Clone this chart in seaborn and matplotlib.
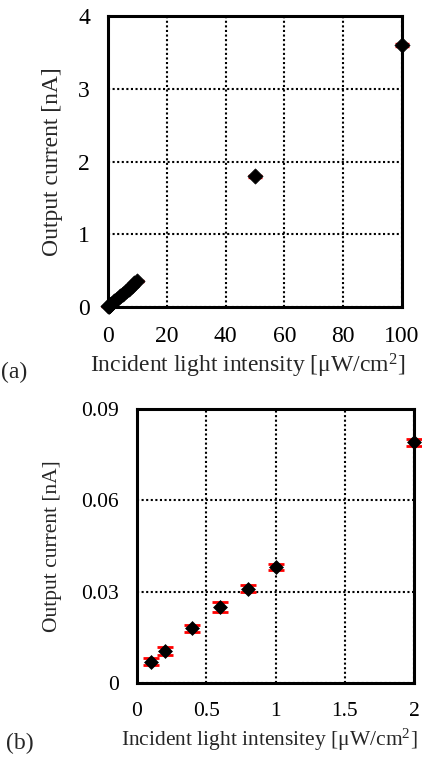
import matplotlib
matplotlib.use("Agg")
import matplotlib.pyplot as plt
import seaborn as sns
import pandas as pd

# Panel (a) data
a_x = [0.1, 0.2, 0.4, 0.6, 0.8, 1, 2, 3, 4, 5, 6, 7, 8, 9, 10, 50, 100]
a_y = [0.007, 0.0105, 0.018, 0.025, 0.031, 0.038, 0.079, 0.11, 0.145, 0.18,
       0.215, 0.25, 0.29, 0.325, 0.36, 1.8, 3.6]
a_err = [0.0012, 0.0013, 0.0012, 0.0016, 0.0012, 0.001, 0.0012, 0.003, 0.004, 0.005,
         0.006, 0.007, 0.008, 0.009, 0.01, 0.02, 0.03]

# Panel (b) data
b_x = [0.1, 0.2, 0.4, 0.6, 0.8, 1.0, 2.0]
b_y = [0.007, 0.0105, 0.018, 0.025, 0.031, 0.038, 0.079]
b_err = [0.0012, 0.0013, 0.0012, 0.0016, 0.0012, 0.001, 0.0012]

a_xticks = [0, 20, 40, 60, 80, 100]
a_yticks = [0, 1, 2, 3, 4]
b_xticks = [0, 0.5, 1, 1.5, 2]
b_xticklabels = ["0", "0.5", "1", "1.5", "2"]
b_yticks = [0, 0.03, 0.06, 0.09]
b_yticklabels = ["0", "0.03", "0.06", "0.09"]

sns.set_style("white")
plt.rcParams['font.family'] = ['Liberation Serif', 'DejaVu Serif']
plt.rcParams['mathtext.fontset'] = 'custom'
plt.rcParams['mathtext.rm'] = 'Liberation Serif'
plt.rcParams['mathtext.default'] = 'regular'

W, H = 422, 758
fig = plt.figure(figsize=(W / 100, H / 100), dpi=100)

def px_axes(l, r, t, b):
    return fig.add_axes([l / W, 1 - b / H, (r - l) / W, (b - t) / H])

A = (108, 402, 16, 307)
B = (137, 414, 409, 683)
ax1 = px_axes(*A)
ax2 = px_axes(*B)

def style(ax, fs, xpad, ypad):
    for s in ax.spines.values():
        s.set_linewidth(2.2)
        s.set_color('black')
        s.set_zorder(2)
    ax.grid(True, color='black', linestyle=(0, (1, 1.2)), linewidth=1.5)
    ax.tick_params(direction='in', length=4, width=1.2, labelsize=fs,
                   colors='black')
    ax.tick_params(axis='x', pad=xpad)
    ax.tick_params(axis='y', pad=ypad)

def place_labels(ax, box, xlab_x, xlab_y, ylab_x, xtext, ytext, fs_x, fs_y):
    l, r, t, b = box
    ax.set_xlabel(xtext, fontsize=fs_x)
    ax.set_ylabel(ytext, fontsize=fs_y)
    ax.xaxis.set_label_coords((xlab_x - l) / (r - l), (b - xlab_y) / (b - t))
    ax.xaxis.label.set_va('center')
    ax.yaxis.set_label_coords((ylab_x - l) / (r - l), 0.5)
    ax.yaxis.label.set_va('center')

df_a = pd.DataFrame({'x': a_x, 'y': a_y})
ax1.errorbar(a_x, a_y, yerr=a_err, fmt='none', ecolor='red', elinewidth=1.2,
             capsize=5, zorder=3, clip_on=False)
sns.scatterplot(data=df_a, x='x', y='y', marker='D', s=60, color='black',
                edgecolor='black', linewidth=0.5, ax=ax1, zorder=4, clip_on=False)
ax1.set_xlim(0, 100)
ax1.set_ylim(0, 4)
ax1.set_xticks(a_xticks)
ax1.set_yticks(a_yticks)
style(ax1, 17, 14, 13)
place_labels(ax1, A, 248, 366, 53, "Incident light intensity [μW/cm$^2$]",
             "Output current [nA]", 17, 17)

df_b = pd.DataFrame({'x': b_x, 'y': b_y})
ax2.errorbar(b_x, b_y, yerr=b_err, fmt='none', ecolor='red', elinewidth=1.2,
             capsize=5.5, capthick=2.0, zorder=3, clip_on=False)
sns.scatterplot(data=df_b, x='x', y='y', marker='D', s=50, color='black',
                edgecolor='black', linewidth=0.5, ax=ax2, zorder=4, clip_on=False)
ax2.set_xlim(0, 2)
ax2.set_ylim(0, 0.09)
ax2.set_xticks(b_xticks)
ax2.set_xticklabels(b_xticklabels)
ax2.set_yticks(b_yticks)
ax2.set_yticklabels(b_yticklabels)
style(ax2, 15.5, 14, 13)
place_labels(ax2, B, 269, 740, 53, "Incident light intensitey [μW/cm$^2$]",
             "Output current [nA]", 15.5, 15.5)

fig.text(1 / W, 1 - 372 / H, "(a)", fontsize=17, va='center', ha='left')
fig.text(6 / W, 1 - 743 / H, "(b)", fontsize=17, va='center', ha='left')

fig.savefig("out.png", dpi=100)
